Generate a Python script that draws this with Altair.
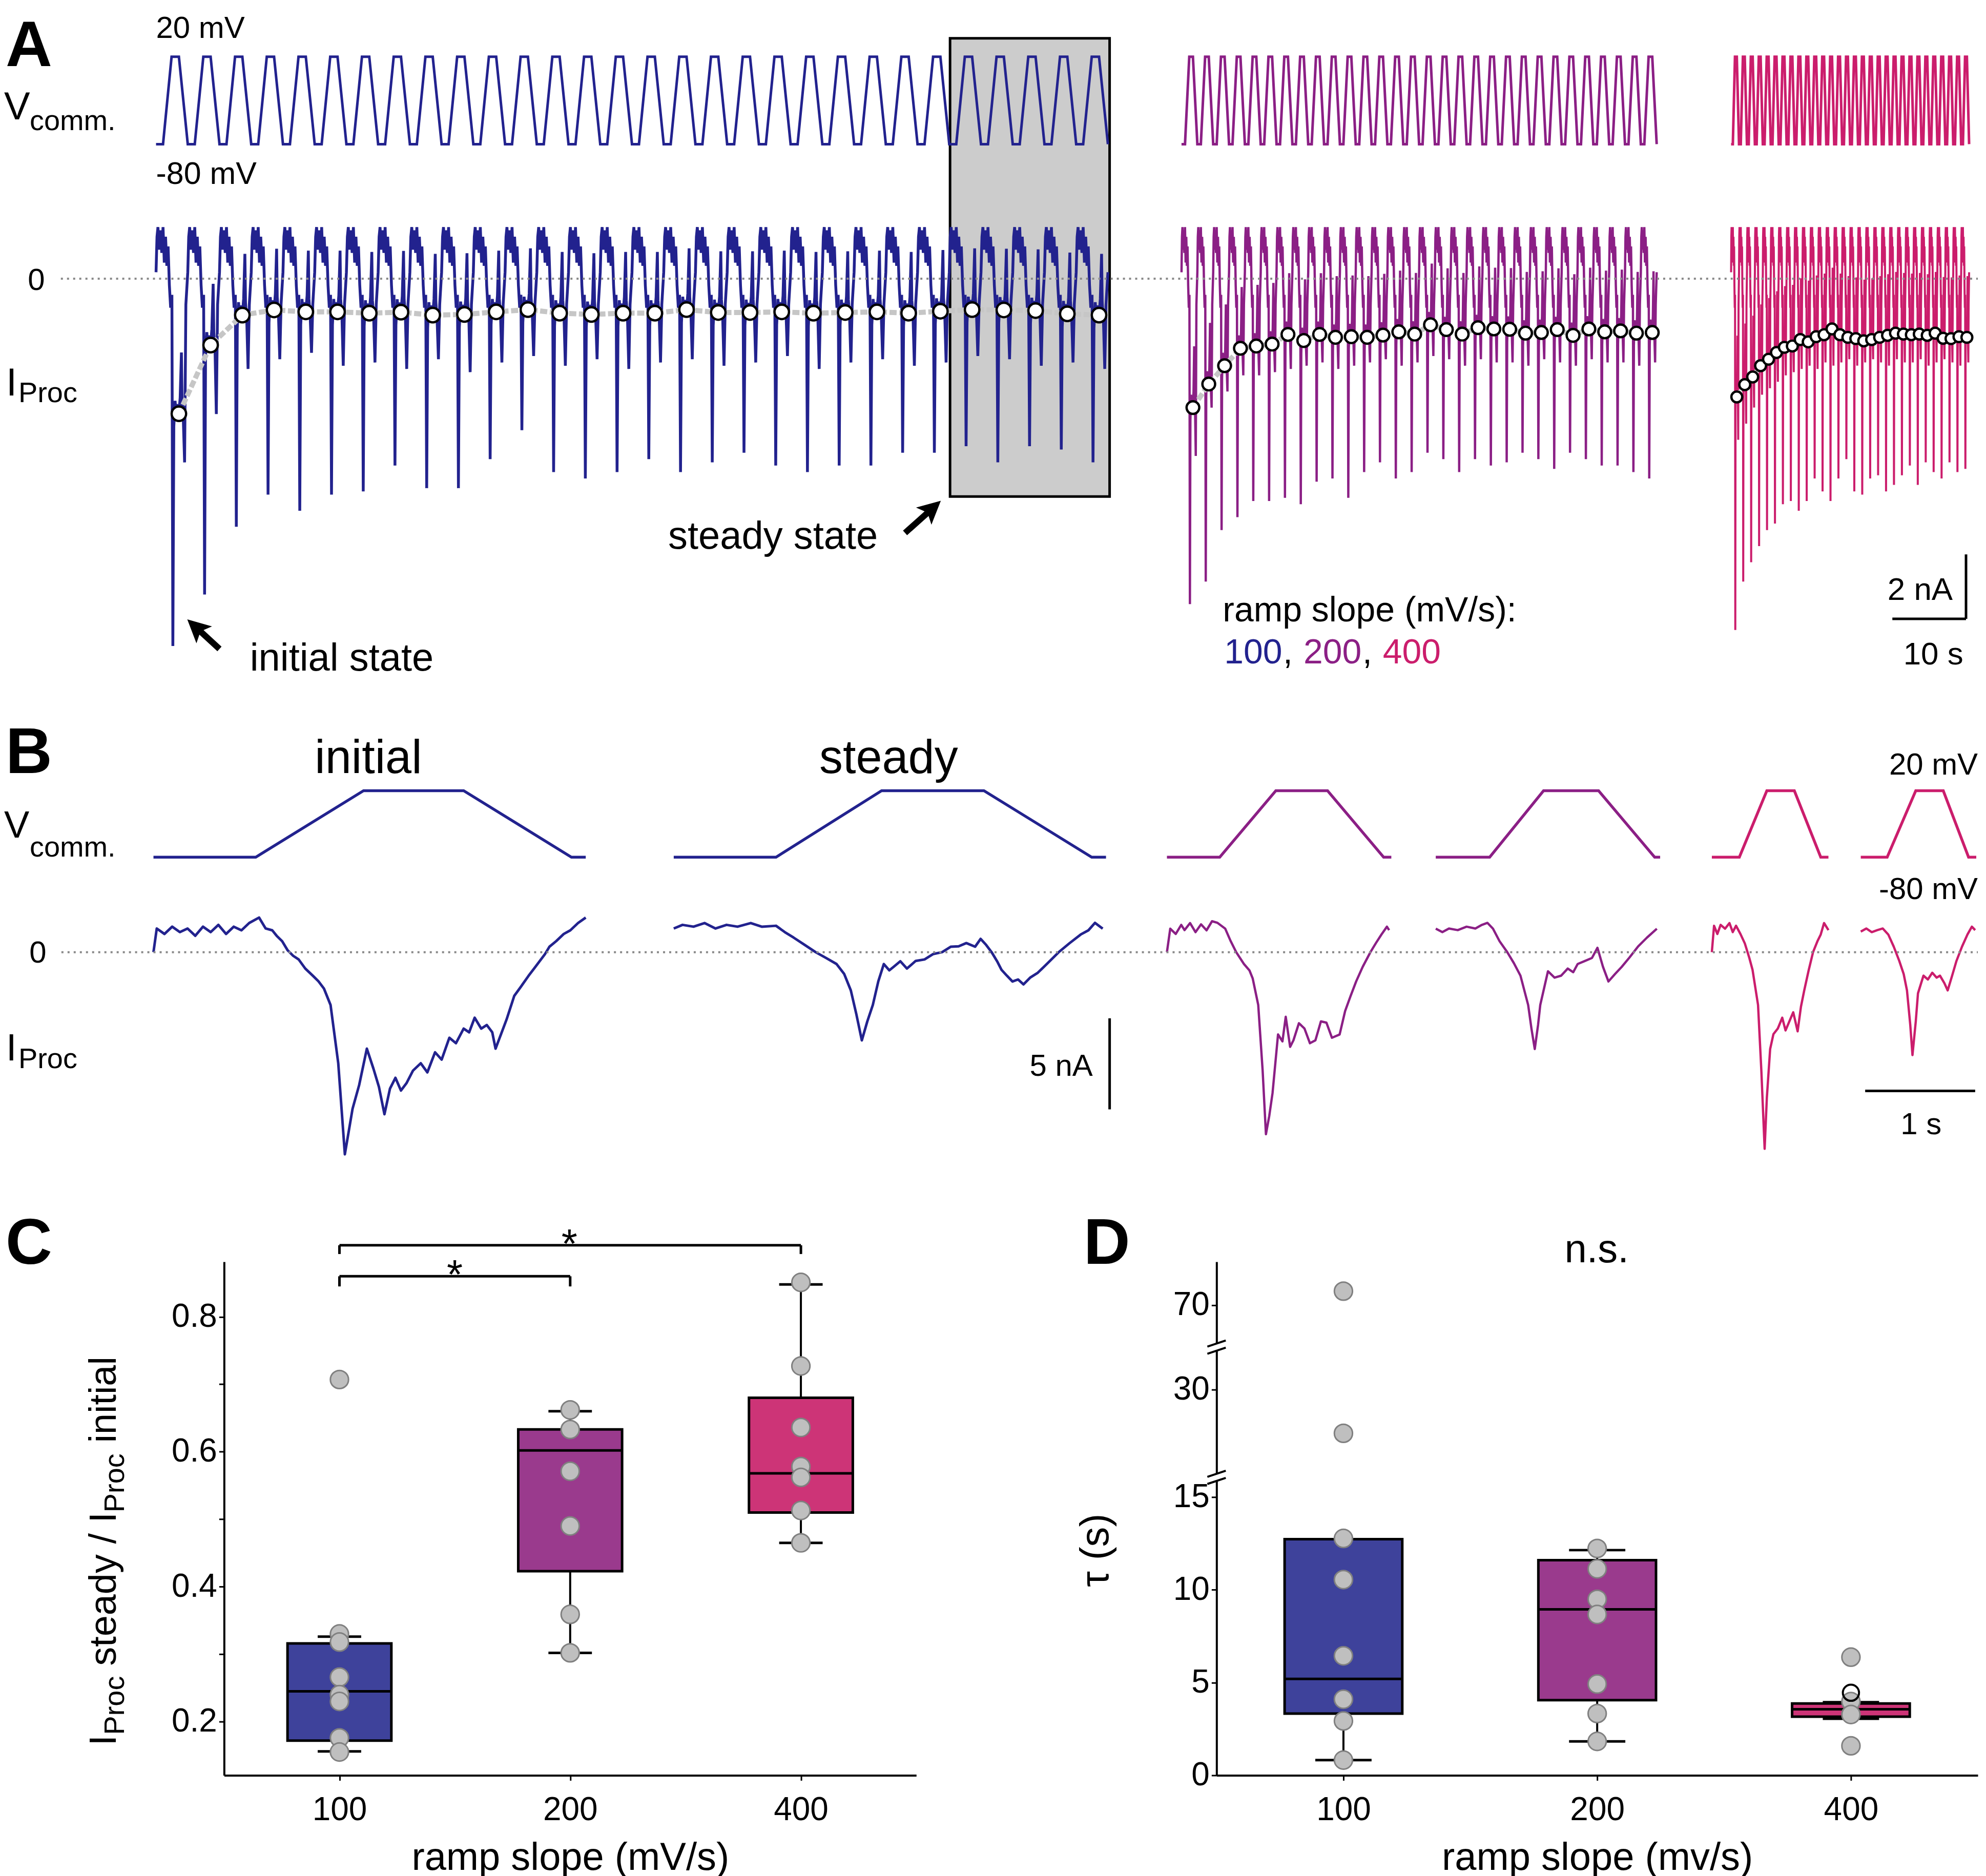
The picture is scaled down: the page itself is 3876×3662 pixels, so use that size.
import altair as alt
import pandas as pd

FONT = "Liberation Sans"
BLUE = "#22228e"
PURPLE = "#8b1f85"
PINK = "#cb1d6c"
BOX_BLUE = "#3e429b"
BOX_PURPLE = "#9a3a8d"
BOX_PINK = "#cd3477"
PT_FILL = "#bfbfbf"
PT_STROKE = "#808080"

SLOPES = ["100", "200", "400"]
TRACE_COLORS = [BLUE, PURPLE, PINK]
BOX_COLORS = [BOX_BLUE, BOX_PURPLE, BOX_PINK]

# ---------------- Panel A : 30 ramp cycles per slope ----------------
N_CYCLES = 30
A_START = [0.0, 139.2, 213.8]          # s, start of each recording on the shared time axis
A_PERIOD = [4.307, 2.15, 1.077]        # s per ramp cycle
A_SPIKE = [
    [-11.4, -9.8, -7.7, -6.7, -7.2, -6.7, -6.6, -5.8, -6.5, -6.5, -5.6, -4.7, -6.0, -6.2, -6.0,
     -5.6, -6.0, -5.7, -5.4, -5.8, -6.0, -5.8, -5.8, -5.4, -5.4, -5.2, -5.7, -5.2, -5.3, -5.7],
    [-10.1, -9.4, -7.8, -7.4, -6.9, -6.9, -6.8, -7.0, -6.3, -6.2, -6.8, -6.0, -5.7, -6.2, -6.0,
     -5.4, -5.6, -6.0, -5.6, -5.8, -5.7, -5.4, -5.6, -5.9, -5.4, -5.6, -5.8, -5.8, -6.0, -6.2],
    [-10.9, -9.4, -8.8, -8.3, -7.8, -7.6, -7.0, -6.9, -7.2, -6.9, -6.2, -6.6, -6.9, -6.2, -5.6,
     -6.6, -6.7, -6.2, -6.1, -6.6, -6.4, -6.1, -5.8, -6.4, -5.7, -6.0, -6.2, -5.7, -6.0, -5.9],
]
A_CIRCLE = [
    [-4.19, -2.06, -1.13, -0.97, -1.03, -1.03, -1.07, -1.04, -1.13, -1.11, -1.03, -0.96, -1.07, -1.11, -1.07,
     -1.07, -0.96, -1.05, -1.05, -1.03, -1.07, -1.05, -1.03, -1.07, -1.01, -0.96, -0.97, -0.99, -1.09, -1.13],
    [-4.0, -3.27, -2.70, -2.16, -2.09, -2.03, -1.73, -1.92, -1.73, -1.82, -1.80, -1.82, -1.75, -1.65, -1.72,
     -1.43, -1.58, -1.72, -1.52, -1.56, -1.57, -1.69, -1.67, -1.58, -1.76, -1.56, -1.65, -1.62, -1.69, -1.67],
    [-3.67, -3.29, -3.05, -2.70, -2.50, -2.29, -2.13, -2.09, -1.89, -1.96, -1.80, -1.74, -1.56, -1.74, -1.82,
     -1.86, -1.93, -1.89, -1.82, -1.76, -1.69, -1.72, -1.74, -1.72, -1.76, -1.69, -1.85, -1.86, -1.80, -1.82],
]
A_DIP = [
    [-5.7, -4.2, -2.8, -2.5, -2.3, -2.7, -2.6, -2.8, -2.5, -2.9, -2.6, -2.4, -2.7, -2.5, -2.8,
     -2.6, -2.5, -2.7, -2.6, -2.4, -2.8, -2.6, -2.5, -2.7, -2.6, -2.4, -2.5, -2.7, -2.6, -2.8],
    [-5.5, -4.0, -3.5, -3.0, -3.0, -2.9, -2.8, -2.7, -2.6, -2.8, -2.7, -2.6, -2.5, -2.7, -2.6,
     -2.4, -2.5, -2.7, -2.5, -2.6, -2.6, -2.7, -2.5, -2.6, -2.7, -2.5, -2.6, -2.6, -2.7, -2.6],
    [-5.0, -4.5, -4.0, -3.6, -3.4, -3.2, -3.0, -2.9, -2.8, -2.7, -2.8, -2.6, -2.7, -2.6, -2.5,
     -2.7, -2.6, -2.5, -2.6, -2.7, -2.5, -2.6, -2.6, -2.5, -2.7, -2.6, -2.5, -2.6, -2.7, -2.6],
]
# one ramp cycle of the current trace (phase within cycle, how the value is read, value in nA)
CYC_PHASE = [0.00, 0.03, 0.06, 0.10, 0.14, 0.18, 0.22, 0.26, 0.30, 0.34, 0.38, 0.42, 0.46, 0.50,
             0.53, 0.56, 0.60, 0.64, 0.68, 0.72, 0.76, 0.80, 0.82, 0.86, 0.90, 0.94]
CYC_KIND = ["abs"] * 14 + ["spike"] + ["circ"] * 9 + ["dip", "abs"]
CYC_VALUE = [0.2, 1.3, 1.6, 0.9, 1.5, 0.8, 1.6, 0.5, 1.3, 0.4, 1.0, -0.2, -0.9, -0.5,
             0.0, -0.4, 0.4, -0.1, 0.3, 0.0, 0.5, 1.9, 0.4, -0.2, 0.0, -0.8]
CIRCLE_PHASE = 0.72
VC_PHASE = [0.0, 0.22, 0.49, 0.72]
VC_LEVEL = [-80, -80, 20, 20]

A_T_DOMAIN = [-20.625, 247.29]
A_I_DOMAIN = [-12.635, 8.476]
A_V_DOMAIN = [-699.3, 78.48]

# ---------------- Panel B : single sweeps ----------------
B_START = [1.358, 6.088, 10.572, 13.016, 15.526, 16.88]
B_COLORS = [BLUE, BLUE, PURPLE, PURPLE, PINK, PINK]
B_VC_T = [
    [0, 0.93, 1.91, 2.82, 3.80, 3.93],
    [0, 0.93, 1.89, 2.82, 3.80, 3.93],
    [0, 0.48, 0.99, 1.46, 1.97, 2.04],
    [0, 0.49, 0.98, 1.48, 1.99, 2.04],
    [0, 0.25, 0.50, 0.75, 0.99, 1.06],
    [0, 0.24, 0.50, 0.75, 0.98, 1.05],
]
B_VC_V = [-80, -80, 20, 20, -80, -80]
B_CUR = [
    [(0.00, 0.0), (0.03, 1.3), (0.10, 1.0), (0.17, 1.4), (0.24, 1.1), (0.31, 1.3), (0.38, 0.9), (0.45, 1.4),
     (0.52, 1.1), (0.59, 1.5), (0.66, 1.0), (0.73, 1.4), (0.80, 1.2), (0.87, 1.6), (0.96, 1.9), (1.02, 1.3),
     (1.08, 1.2), (1.12, 0.9), (1.17, 0.6), (1.22, 0.1), (1.27, -0.2), (1.32, -0.4), (1.38, -0.9), (1.45, -1.3),
     (1.50, -1.6), (1.55, -2.0), (1.61, -2.9), (1.68, -6.1), (1.74, -11.1), (1.81, -8.6), (1.87, -7.3),
     (1.94, -5.3), (2.00, -6.4), (2.05, -7.4), (2.10, -8.9), (2.15, -7.5), (2.20, -6.9), (2.25, -7.6),
     (2.30, -7.2), (2.36, -6.5), (2.43, -6.1), (2.49, -6.6), (2.56, -5.5), (2.62, -5.9), (2.69, -4.7),
     (2.75, -5.0), (2.82, -4.2), (2.87, -4.4), (2.92, -3.6), (2.98, -4.2), (3.03, -4.0), (3.08, -4.4),
     (3.11, -5.3), (3.16, -4.5), (3.21, -3.7), (3.28, -2.4), (3.34, -1.9), (3.41, -1.3), (3.46, -0.9),
     (3.51, -0.5), (3.56, -0.1), (3.60, 0.3), (3.66, 0.6), (3.73, 1.0), (3.79, 1.2), (3.86, 1.6), (3.93, 1.9)],
    [(0.00, 1.3), (0.08, 1.5), (0.18, 1.4), (0.28, 1.6), (0.38, 1.3), (0.48, 1.5), (0.58, 1.4), (0.70, 1.6),
     (0.80, 1.4), (0.93, 1.45), (1.01, 1.1), (1.09, 0.8), (1.19, 0.4), (1.29, 0.0), (1.38, -0.3), (1.48, -0.65),
     (1.55, -1.2), (1.61, -2.1), (1.66, -3.4), (1.71, -4.84), (1.76, -3.8), (1.81, -2.9), (1.86, -1.6),
     (1.91, -0.65), (1.96, -1.0), (2.00, -0.8), (2.06, -0.5), (2.12, -0.9), (2.20, -0.48), (2.28, -0.4),
     (2.36, -0.1), (2.44, 0.0), (2.52, 0.3), (2.59, 0.32), (2.66, 0.5), (2.74, 0.3), (2.79, 0.73), (2.84, 0.4),
     (2.89, 0.0), (2.94, -0.5), (2.98, -0.97), (3.03, -1.3), (3.08, -1.61), (3.13, -1.5), (3.18, -1.77),
     (3.24, -1.4), (3.31, -1.13), (3.40, -0.6), (3.50, 0.0), (3.60, 0.5), (3.70, 0.97), (3.77, 1.2),
     (3.83, 1.61), (3.90, 1.29)],
    [(0.00, 0.0), (0.03, 1.29), (0.08, 1.0), (0.13, 1.5), (0.16, 1.21), (0.21, 1.6), (0.26, 1.1), (0.31, 1.53),
     (0.36, 1.2), (0.41, 1.7), (0.46, 1.61), (0.53, 1.29), (0.58, 0.6), (0.63, 0.0), (0.70, -0.65), (0.75, -1.0),
     (0.78, -1.45), (0.83, -2.9), (0.87, -6.5), (0.90, -10.0), (0.93, -9.0), (0.96, -7.74), (1.01, -4.52),
     (1.05, -4.9), (1.08, -3.55), (1.12, -5.2), (1.15, -4.84), (1.20, -3.9), (1.25, -4.19), (1.30, -5.0),
     (1.35, -4.84), (1.40, -3.8), (1.45, -3.87), (1.50, -4.7), (1.57, -4.52), (1.62, -3.23), (1.67, -2.4),
     (1.72, -1.61), (1.78, -0.8), (1.85, 0.0), (1.90, 0.5), (1.95, 0.97), (2.00, 1.4), (2.02, 1.21)],
    [(0.00, 1.29), (0.06, 1.1), (0.12, 1.3), (0.20, 1.21), (0.28, 1.4), (0.36, 1.3), (0.42, 1.5), (0.47, 1.61),
     (0.52, 1.29), (0.58, 0.6), (0.65, 0.0), (0.71, -0.6), (0.77, -1.29), (0.84, -2.9), (0.87, -4.2),
     (0.90, -5.32), (0.93, -4.0), (0.95, -2.9), (1.02, -1.05), (1.08, -1.4), (1.14, -1.29), (1.20, -0.9),
     (1.25, -1.1), (1.29, -0.65), (1.35, -0.5), (1.42, -0.32), (1.47, 0.24), (1.52, -0.8), (1.57, -1.61),
     (1.63, -1.2), (1.69, -0.81), (1.76, -0.3), (1.84, 0.32), (1.92, 0.8), (2.01, 1.29)],
    [(0.00, 0.0), (0.02, 1.45), (0.05, 1.0), (0.08, 1.5), (0.12, 1.29), (0.16, 1.6), (0.19, 1.1), (0.22, 1.45),
     (0.26, 1.0), (0.30, 0.48), (0.34, -0.3), (0.37, -0.97), (0.42, -2.9), (0.45, -6.5), (0.48, -10.8),
     (0.50, -8.0), (0.53, -5.32), (0.56, -4.5), (0.60, -4.19), (0.64, -3.6), (0.67, -4.3), (0.70, -3.87),
     (0.74, -3.3), (0.78, -4.35), (0.81, -3.0), (0.84, -2.1), (0.88, -1.0), (0.92, 0.0), (0.96, 0.6),
     (0.99, 0.97), (1.02, 1.6), (1.06, 1.21)],
    [(0.00, 1.13), (0.05, 1.3), (0.10, 1.1), (0.15, 1.21), (0.20, 1.3), (0.25, 0.97), (0.30, 0.3), (0.35, -0.48),
     (0.39, -1.2), (0.42, -2.1), (0.45, -4.0), (0.47, -5.65), (0.50, -3.8), (0.52, -2.26), (0.57, -1.29),
     (0.61, -1.5), (0.65, -1.13), (0.69, -1.4), (0.72, -1.29), (0.76, -1.7), (0.79, -2.1), (0.83, -1.3),
     (0.87, -0.48), (0.92, 0.3), (0.97, 0.97), (1.01, 1.4), (1.04, 1.21)],
]
B_T_DOMAIN = [0, 17.944]
B_I_DOMAIN = [-17.003, 14.626]
B_V_DOMAIN = [-688.46, 177.69]

# ---------------- Panel C / D : box plots ----------------
C_Q1 = [0.172, 0.423, 0.510]
C_MED = [0.245, 0.602, 0.568]
C_Q3 = [0.316, 0.633, 0.680]
C_LO = [0.156, 0.302, 0.465]
C_HI = [0.326, 0.660, 0.848]
C_POINTS = [
    [0.707, 0.330, 0.318, 0.266, 0.240, 0.230, 0.176, 0.155],
    [0.662, 0.633, 0.571, 0.490, 0.359, 0.302],
    [0.851, 0.727, 0.636, 0.578, 0.562, 0.513, 0.465],
]
C_Y_TICKS = [0.2, 0.3, 0.4, 0.5, 0.6, 0.7, 0.8]
C_DOMAIN = [0.1205, 0.8815]

D_Q1 = [3.33, 4.05, 3.16]
D_MED = [5.20, 8.95, 3.56]
D_Q3 = [12.73, 11.6, 3.87]
D_LO = [0.82, 1.83, 3.05]
D_HI = [12.73, 12.14, 3.94]
D_POINTS = [
    [76.6, 23.9, 12.77, 10.55, 6.44, 4.10, 2.93, 0.82],
    [12.23, 11.13, 9.49, 8.67, 4.92, 3.33, 1.83],
    [6.37, 3.98, 3.28, 1.59],
]
D_OPEN = [4.45]
D_Y_TICKS = [0, 5, 10, 15, 30, 70]
D_BREAKS = [17.9, 50.6]
D_DOMAIN = [0, 15, 30, 70, 90.5]
D_RANGE = [1004, 460, 250, 84.7, 0]

ARROW_PATH = "M0,0 L0.5,1 L0,0.78 L-0.5,1 Z"
BREAK_LINES = "M-0.9,0.05 L0.9,-0.55 M-0.9,0.75 L0.9,0.15"
BREAK_PATCH = "M-0.45,-0.3 L0.45,-0.3 L0.45,0.5 L-0.45,0.5 Z"

DUMMY = pd.DataFrame({"k": [0]})


def lbl(text, px, py, fs, align="left", color="black", weight="normal", angle=0, baseline="alphabetic"):
    return alt.Chart(DUMMY).mark_text(
        text=text, font=FONT, fontSize=fs, align=align, baseline=baseline,
        color=color, fontWeight=weight, angle=angle
    ).encode(x=alt.value(px), y=alt.value(py))


# ---------- build panel A tables ----------
cur_rows, vc_rows, circ_rows = [], [], []
for k, s in enumerate(SLOPES):
    t0, per = A_START[k], A_PERIOD[k]
    for c in range(N_CYCLES):
        for ph, kind, val in zip(CYC_PHASE, CYC_KIND, CYC_VALUE):
            if kind == "abs":
                y = val
            elif kind == "spike":
                y = A_SPIKE[k][c]
            elif kind == "circ":
                y = A_CIRCLE[k][c] + val
            else:
                y = A_DIP[k][c]
            cur_rows.append({"s": s, "t": t0 + (c + ph) * per, "i": y})
        for ph, lv in zip(VC_PHASE, VC_LEVEL):
            vc_rows.append({"s": s, "t": t0 + (c + ph) * per, "v": lv})
        circ_rows.append({"s": s, "t": t0 + (c + CIRCLE_PHASE) * per, "i": A_CIRCLE[k][c]})
    cur_rows.append({"s": s, "t": t0 + N_CYCLES * per, "i": CYC_VALUE[0]})
    vc_rows.append({"s": s, "t": t0 + N_CYCLES * per, "v": VC_LEVEL[0]})
curA = pd.DataFrame(cur_rows)
vcA = pd.DataFrame(vc_rows)
circA = pd.DataFrame(circ_rows)

XA = alt.Scale(domain=A_T_DOMAIN, nice=False, zero=False)
YAI = alt.Scale(domain=A_I_DOMAIN, nice=False, zero=False)
YAV = alt.Scale(domain=A_V_DOMAIN, nice=False, zero=False)


def xa(f):
    return alt.X(f"{f}:Q", scale=XA, axis=None)


def yai(f):
    return alt.Y(f"{f}:Q", scale=YAI, axis=None)


layersA = []
layersA.append(
    alt.Chart(pd.DataFrame({"t0": [107.78], "t1": [129.44], "y0": [-6.76], "y1": [7.46]}))
    .mark_rect(fill="#cccccc", stroke="black", strokeWidth=5)
    .encode(x=xa("t0"), x2=alt.X2("t1"), y=yai("y0"), y2=alt.Y2("y1"))
)
CUR_W = [5.5, 4.5, 4]
CIRC_SIZE = [800, 620, 450]
for k, s in enumerate(SLOPES):
    layersA.append(
        alt.Chart(vcA[vcA.s == s]).mark_line(color=TRACE_COLORS[k], strokeWidth=5)
        .encode(x=xa("t"), y=alt.Y("v:Q", scale=YAV, axis=None))
    )
for k, s in enumerate(SLOPES):
    layersA.append(
        alt.Chart(curA[curA.s == s]).mark_line(color=TRACE_COLORS[k], strokeWidth=CUR_W[k])
        .encode(x=xa("t"), y=yai("i"))
    )
layersA.append(
    alt.Chart(pd.DataFrame({"t0": [-12.92], "t1": [247.29], "y": [0.0]}))
    .mark_rule(color="#8a8a8a", strokeWidth=4, strokeDash=[4, 8])
    .encode(x=xa("t0"), x2=alt.X2("t1"), y=yai("y"))
)
layersA.append(
    alt.Chart(circA).mark_line(color="#c6c6c6", strokeWidth=10, strokeDash=[14, 5])
    .encode(x=xa("t"), y=yai("i"), detail="s:N")
)
for k, s in enumerate(SLOPES):
    layersA.append(
        alt.Chart(circA[circA.s == s])
        .mark_point(filled=True, fill="white", stroke="black", strokeWidth=4.5, opacity=1, size=CIRC_SIZE[k])
        .encode(x=xa("t"), y=yai("i"))
    )
# scale bars (2 nA, 10 s)
layersA.append(
    alt.Chart(pd.DataFrame({"t0": [245.69, 235.69], "t1": [245.69, 245.69],
                            "y0": [-8.556, -10.556], "y1": [-10.556, -10.556]}))
    .mark_rule(color="black", strokeWidth=5)
    .encode(x=xa("t0"), x2=alt.X2("t1"), y=yai("y0"), y2=alt.Y2("y1"))
)
# arrows
layersA.append(
    alt.Chart(pd.DataFrame({"t0": [101.67, 8.61], "t1": [105.0, 5.76],
                            "y0": [-7.89, -11.49], "y1": [-7.21, -10.89]}))
    .mark_rule(color="black", strokeWidth=12)
    .encode(x=xa("t0"), x2=alt.X2("t1"), y=yai("y0"), y2=alt.Y2("y1"))
)
for tt, yy, ang in [(106.53, -6.89, 48), (4.24, -10.57, 312.6)]:
    layersA.append(
        alt.Chart(pd.DataFrame({"t": [tt], "i": [yy]}))
        .mark_point(shape=ARROW_PATH, filled=True, color="black", opacity=1, size=8100, angle=ang)
        .encode(x=xa("t"), y=yai("i"))
    )
layersA += [
    lbl("A", 3, 118, 126, weight="bold"),
    lbl("20 mV", 297, 63, 60),
    lbl("V", 0, 223, 76),
    lbl("comm.", 50, 244, 56),
    lbl("-80 mV", 297, 349, 61),
    lbl("0", 63, 556, 60, align="center"),
    lbl("I", 4, 762, 76),
    lbl("Proc", 28, 775, 56),
    lbl("steady state", 1503, 1062, 76, align="center"),
    lbl("initial state", 660, 1300, 76, align="center"),
    lbl("ramp slope (mV/s):", 2382, 1204, 68),
    lbl("100", 2385, 1286, 68, color=BLUE),
    lbl(",", 2500, 1286, 68),
    lbl("200", 2540, 1286, 68, color=PURPLE),
    lbl(",", 2655, 1286, 68),
    lbl("400", 2695, 1286, 68, color=PINK),
    lbl("2 nA", 3809, 1162, 62, align="right"),
    lbl("10 s", 3771, 1288, 62, align="center"),
]
rowA = alt.layer(*layersA).resolve_scale(y="independent").properties(width=3858, height=1330)

# ---------- panel B ----------
XB = alt.Scale(domain=B_T_DOMAIN, nice=False, zero=False)
YBI = alt.Scale(domain=B_I_DOMAIN, nice=False, zero=False)
YBV = alt.Scale(domain=B_V_DOMAIN, nice=False, zero=False)


def xb(f):
    return alt.X(f"{f}:Q", scale=XB, axis=None)


def ybi(f):
    return alt.Y(f"{f}:Q", scale=YBI, axis=None)


layersB = []
for j in range(6):
    vdf = pd.DataFrame({"t": [B_START[j] + t for t in B_VC_T[j]], "v": B_VC_V})
    layersB.append(
        alt.Chart(vdf).mark_line(color=B_COLORS[j], strokeWidth=5.5)
        .encode(x=xb("t"), y=alt.Y("v:Q", scale=YBV, axis=None))
    )
    cdf = pd.DataFrame({"t": [B_START[j] + p[0] for p in B_CUR[j]], "i": [p[1] for p in B_CUR[j]]})
    layersB.append(
        alt.Chart(cdf).mark_line(color=B_COLORS[j], strokeWidth=5 if j < 2 else 4.5, strokeJoin="round")
        .encode(x=xb("t"), y=ybi("i"))
    )
layersB.append(
    alt.Chart(pd.DataFrame({"t0": [0.521], "t1": [17.944], "y": [0.0]}))
    .mark_rule(color="#8a8a8a", strokeWidth=4, strokeDash=[4, 8])
    .encode(x=xb("t0"), x2=alt.X2("t1"), y=ybi("y"))
)
layersB.append(
    alt.Chart(pd.DataFrame({"t0": [10.051, 16.92], "t1": [10.051, 17.92],
                            "y0": [-3.63, -7.62], "y1": [-8.63, -7.62]}))
    .mark_rule(color="black", strokeWidth=5)
    .encode(x=xb("t0"), x2=alt.X2("t1"), y=ybi("y0"), y2=alt.Y2("y1"))
)
layersB += [
    lbl("B", 3, 170, 126, weight="bold"),
    lbl("initial", 712, 170, 92, align="center"),
    lbl("steady", 1729, 170, 92, align="center"),
    lbl("V", 0, 297, 74),
    lbl("comm.", 50, 334, 56),
    lbl("0", 66, 541, 60, align="center"),
    lbl("I", 4, 732, 74),
    lbl("Proc", 28, 747, 56),
    lbl("5 nA", 2128, 762, 60, align="right"),
    lbl("20 mV", 3858, 173, 60, align="right"),
    lbl("-80 mV", 3858, 417, 60, align="right"),
    lbl("1 s", 3747, 877, 60, align="center"),
]
rowB = alt.layer(*layersB).resolve_scale(y="independent").properties(width=3858, height=1126)


# ---------- panels C and D ----------
def box_frame(q1, med, q3, lo, hi):
    return pd.DataFrame({"cat": SLOPES, "q1": q1, "med": med, "q3": q3, "lo": lo, "hi": hi})


def pts_frame(points):
    rows = []
    for k, s in enumerate(SLOPES):
        for v in points[k]:
            rows.append({"cat": s, "v": v})
    return pd.DataFrame(rows)


def x_axis(title):
    return alt.X("cat:N", scale=alt.Scale(type="point", domain=SLOPES, padding=0.5),
                 axis=alt.Axis(title=title, labelAngle=0, tickSize=10, tickWidth=3, labelPadding=26,
                               labelFontSize=64, titleFontSize=76, titlePadding=24, domainWidth=4,
                               titleFontWeight="normal", labelFont=FONT, titleFont=FONT))


def box_layers(XE, YF, boxdf, ptdf, box_w, cap_w):
    out = []
    out.append(alt.Chart(boxdf).mark_rule(color="black", strokeWidth=4)
               .encode(x=XE, y=YF("lo"), y2=alt.Y2("hi")))
    out.append(alt.Chart(boxdf).mark_bar(size=box_w, stroke="black", strokeWidth=5, opacity=1)
               .encode(x=XE, y=YF("q1"), y2=alt.Y2("q3"),
                       color=alt.Color("cat:N", scale=alt.Scale(domain=SLOPES, range=BOX_COLORS), legend=None)))
    out.append(alt.Chart(boxdf).mark_tick(size=box_w, thickness=5, color="black", opacity=1)
               .encode(x=XE, y=YF("med")))
    out.append(alt.Chart(boxdf).mark_tick(size=cap_w, thickness=5, color="black", opacity=1)
               .encode(x=XE, y=YF("lo")))
    out.append(alt.Chart(boxdf).mark_tick(size=cap_w, thickness=5, color="black", opacity=1)
               .encode(x=XE, y=YF("hi")))
    out.append(alt.Chart(ptdf).mark_point(filled=True, fill=PT_FILL, stroke=PT_STROKE, strokeWidth=3,
                                          size=1257, opacity=1)
               .encode(x=XE, y=YF("v")))
    return out


XC = x_axis("ramp slope (mV/s)")


def yc(f):
    return alt.Y(f"{f}:Q", scale=alt.Scale(domain=C_DOMAIN, nice=False, zero=False),
                 axis=alt.Axis(values=C_Y_TICKS, title=None, grid=False, tickSize=10, tickWidth=3,
                               labelPadding=4, labelFontSize=64, domainWidth=4, labelFont=FONT,
                               labelExpr="round(datum.value*10) % 2 == 0 ? format(datum.value, '.1f') : ''"))


layersC = box_layers(XC, yc, box_frame(C_Q1, C_MED, C_Q3, C_LO, C_HI), pts_frame(C_POINTS), 203, 85)
brackets = pd.DataFrame({"cat": ["100", "100"], "cat2": ["400", "200"], "y": [0.906, 0.860]})
layersC.append(alt.Chart(brackets).mark_rule(color="black", strokeWidth=5)
               .encode(x=XC, x2=alt.X2("cat2"), y=yc("y")))
bticks = pd.DataFrame({"cat": ["100", "400", "100", "200"], "y0": [0.906, 0.906, 0.860, 0.860],
                       "y1": [0.893, 0.893, 0.845, 0.845]})
layersC.append(alt.Chart(bticks).mark_rule(color="black", strokeWidth=5)
               .encode(x=XC, y=yc("y0"), y2=alt.Y2("y1")))
layersC += [
    lbl("C", -427, 4, 126, weight="bold"),
    lbl("*", 675, -8, 80, align="center"),
    lbl("*", 451, 52, 80, align="center"),
    lbl("I", -212, 946, 74, angle=270),
    lbl("Proc", -196, 925, 56, angle=270),
    lbl("steady / I", -212, 790, 74, angle=270),
    lbl("Proc", -196, 490, 56, angle=270),
    lbl("initial", -212, 354, 74, angle=270),
]
panelC = alt.layer(*layersC).properties(width=1353, height=1004)

XD = x_axis("ramp slope (mv/s)")


def yd(f):
    return alt.Y(f"{f}:Q", scale=alt.Scale(domain=D_DOMAIN, range=D_RANGE, nice=False, zero=False),
                 axis=alt.Axis(values=D_Y_TICKS, title=None, grid=False, tickSize=10, tickWidth=3,
                               labelPadding=4, labelFontSize=64, domainWidth=4, labelFont=FONT, format="d"))


layersD = box_layers(XD, yd, box_frame(D_Q1, D_MED, D_Q3, D_LO, D_HI), pts_frame(D_POINTS), 230, 110)
layersD.append(alt.Chart(pd.DataFrame({"cat": ["400"], "v": D_OPEN}))
               .mark_point(filled=False, stroke="black", strokeWidth=4, size=1000, opacity=1)
               .encode(x=XD, y=yd("v")))
brk = pd.DataFrame({"v": D_BREAKS})
layersD.append(alt.Chart(brk).mark_point(shape=BREAK_PATCH, filled=True, color="white", opacity=1, size=1600)
               .encode(x=alt.value(0), y=yd("v")))
layersD.append(alt.Chart(brk).mark_point(shape=BREAK_LINES, filled=False, stroke="black", strokeWidth=4,
                                         opacity=1, size=1600)
               .encode(x=alt.value(0), y=yd("v")))
layersD += [
    lbl("D", -260, 4, 126, weight="bold"),
    lbl("n.s.", 743, 1, 78, align="center"),
    lbl("τ (s)", -235, 564, 78, align="center", angle=270, baseline="middle"),
]
panelD = alt.layer(*layersD).properties(width=1488, height=1004)

spacer = alt.Chart(DUMMY).mark_point(opacity=0).encode(
    x=alt.X("k:Q", axis=None), y=alt.Y("k:Q", axis=None)
).properties(width=430, height=1004)

bottom = alt.hconcat(spacer, alt.hconcat(panelC, panelD, spacing=587, bounds="flush"),
                     spacing=0, bounds="flush")

chart = (
    alt.vconcat(rowA, rowB, bottom, spacing=0, bounds="flush")
    .properties(padding=0)
    .configure_view(stroke=None)
    .configure_axis(labelFont=FONT, titleFont=FONT, labelColor="black", titleColor="black",
                    domainColor="black", tickColor="black", grid=False)
)

chart.save("out.html", embed_options={"renderer": "svg", "actions": False})
